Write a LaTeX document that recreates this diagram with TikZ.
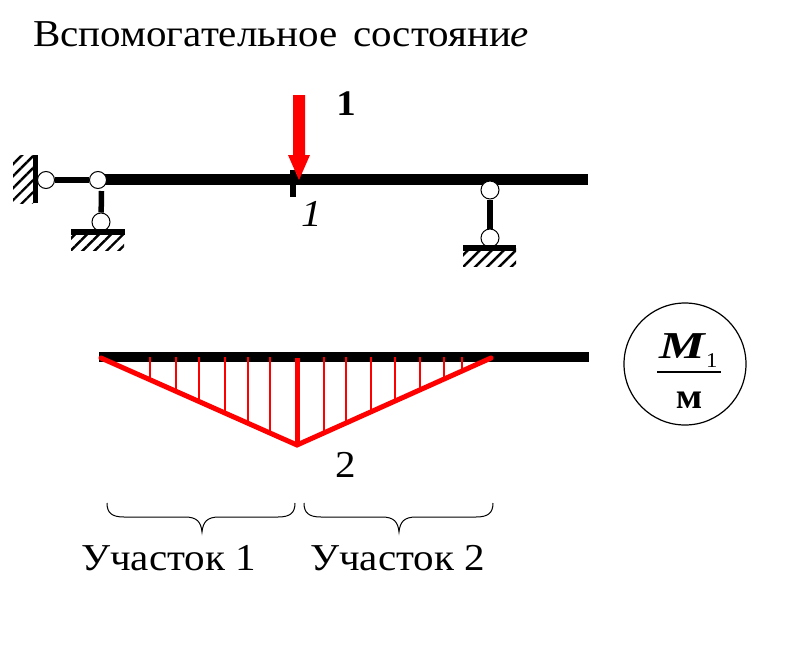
\documentclass[tikz,border=0pt]{standalone}
\usepackage{fontspec}
\usepackage{amsmath}
\usepackage{graphicx}
\setmainfont[FakeStretch=1.08]{Liberation Serif}
\usetikzlibrary{patterns.meta}
\tikzset{
	hinge/.style={circle,draw,fill=white,line width=1pt,inner sep=0pt,minimum size=17pt},
	bar/.style={line width=5.5pt},
	beam/.style={line width=10.5pt},
	epure/.style={line width=5pt,red,line cap=round},
	ordinate/.style={line width=2pt,red},
	hatch/.style={pattern={Lines[angle=45,distance=8.5pt,line width=2.4pt]}},
	label/.style={inner sep=0pt,font=\fontsize{38}{38}\selectfont},
}
\newcommand{\bracepath}[2]{% left end, right end
	\draw[line width=1pt] (#1,503) .. controls (#1,513) and (#1+5,517) .. (#1+17,517)
	-- (#1+78,517) .. controls (#1+90,517) and (#1+94,522) .. (#1+95,532)
	.. controls (#1+96,522) and (#1+100,517) .. (#1+112,517)
	-- (#2-17,517) .. controls (#2-5,517) and (#2,513) .. (#2,503);
}
\begin{document}
\begin{tikzpicture}[x=1pt,y=-1pt]
	\useasboundingbox (0,0) rectangle (785,670);
	
	\node[label,anchor=base west] (Title) at (33,46) {Вспомогательное\hspace{0.14em} состояни\textit{е}};
	
	\coordinate (BeamL) at (98,179.5);
	\coordinate (BeamR) at (588,179.5);
	\draw[beam] (BeamL) -- (BeamR);
	
	\fill[hatch] (13,155) rectangle (33,203);
	\coordinate (WallT) at (35.5,155);
	\coordinate (WallB) at (35.5,203);
	\draw[bar] (WallT) -- (WallB);
	
	\node[hinge] (H1) at (46,180) {};
	\node[hinge] (H2) at (98,180) {};
	\node[hinge,minimum size=18pt] (H3) at (101,222) {};
	\node[hinge,minimum size=18pt] (H4) at (490,190) {};
	\node[hinge,minimum size=18pt] (H5) at (490,238) {};
	
	\draw[bar] (H1) -- (H2);
	\coordinate (S1) at (101.5,191);
	\draw[bar] (S1) -- (H3);
	\draw[bar] (H4) -- (H5);
	
	\fill[hatch] (71,232) rectangle (124,250);
	\coordinate (G1L) at (71,232);
	\coordinate (G1R) at (125,232);
	\draw[bar] (G1L) -- (G1R);
	
	\fill[hatch] (463,248) rectangle (516,266);
	\coordinate (G2L) at (463,248);
	\coordinate (G2R) at (516,248);
	\draw[bar] (G2L) -- (G2R);
	
	\coordinate (TickT) at (293,170);
	\coordinate (TickB) at (293,197);
	\draw[bar] (TickT) -- (TickB);
	
	\fill[red] (293,95) -- (305,95) -- (305,155) -- (310,155) -- (299,180) -- (288,155) -- (293,155) -- cycle;
	
	\node[label,font=\fontsize{36}{36}\selectfont\bfseries] (F1) at (346,104) {1};
	\node[label,font=\fontsize{38}{38}\selectfont\itshape] (P1) at (312,214) {1};
	
	\coordinate (BaseL) at (99,357);
	\coordinate (BaseR) at (589,357);
	\draw[beam] (BaseL) -- (BaseR);
	
	\foreach \xi in {150,176,199,225,248,270}
	{
		\pgfmathsetmacro{\yi}{358+88*(\xi-100)/197}
		\draw[ordinate] (\xi,357) -- (\xi,\yi);
	}
	\foreach \xi in {324,346,371,395,420,444,462}
	{
		\pgfmathsetmacro{\yi}{358+88*(492-\xi)/195}
		\draw[ordinate] (\xi,357) -- (\xi,\yi);
	}
	
	\coordinate (EpL) at (101,358);
	\coordinate (EpM) at (297,445);
	\coordinate (EpT) at (297,358);
	\coordinate (EpR) at (491,358);
	\draw[epure,line join=miter] (EpL) -- (EpM) -- (EpR);
	\draw[epure,line cap=butt] (EpT) -- (EpM);
	
	\node[label] (Ord) at (346,465) {2};
	
	\bracepath{107}{295}
	\bracepath{304}{493}
	
	\node[label,anchor=base west] (Sec1) at (81,570) {Участок 1};
	\node[label,anchor=base west] (Sec2) at (310,570) {Участок 2};
	
	\node[circle,draw,line width=1.2pt,minimum size=122pt,inner sep=0pt] (Units) at (685,364) {};
	\node[label,anchor=base west,font=\fontsize{38}{38}\selectfont\bfseries] (M1) at (659,358) {\scalebox{1.25}[1]{\textit{M}}\raisebox{-9pt}{\fontsize{21}{21}\selectfont\mdseries 1}};
	\coordinate (FracL) at (657,372);
	\coordinate (FracR) at (721,372);
	\draw[line width=1.6pt] (FracL) -- (FracR);
	\node[label,anchor=base,font=\fontsize{36}{36}\selectfont\bfseries] (Unit) at (689,408) {м};
\end{tikzpicture}
\end{document}
